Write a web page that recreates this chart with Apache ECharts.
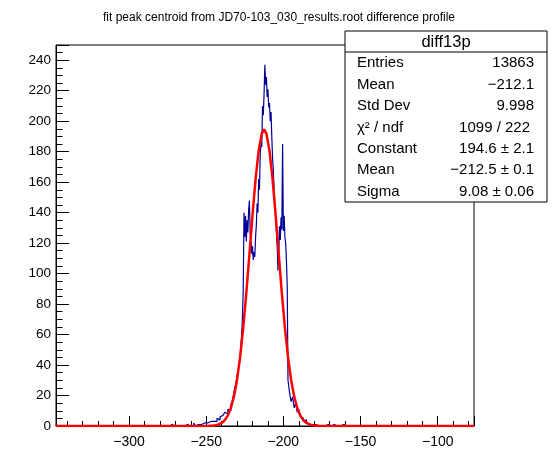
<!DOCTYPE html>
<html>
<head>
<meta charset="utf-8">
<title>diff13p</title>
<script src="https://cdn.jsdelivr.net/npm/echarts@6/dist/echarts.min.js"></script>
<style>
  html, body { margin: 0; padding: 0; background: #fff; }
  #main { width: 558px; height: 474px; }
</style>
</head>
<body>
<div id="main"></div>
<script>
// axis range of the histogram
var xMin = -347.3;
var xMax = -76.5;

// left flank, 1 unit bins from -254
var leftStart = -254;
var leftCounts = [
  1, 0, 2, 1, 2, 1, 3, 2, 3, 4,        // -254 .. -245
  3, 5, 4, 6, 7, 6, 9, 8, 11, 10,      // -244 .. -235
  14, 17, 22, 27, 33, 38, 46           // -234 .. -228
];

// peak, half unit bins from -227
var peakStart = -227;
var peakCounts = [
  60, 72, 89, 140, 124, 138, 121, 135, 127, 142,    // -227 .. -222.5
  148, 126, 121, 113, 118, 109, 114, 111, 124, 132, // -222 .. -217.5
  146, 140, 162, 155, 178, 186, 183, 210, 204, 218, // -217 .. -212.5
  237, 224, 229, 216, 221, 209, 212, 200, 206, 190, // -212 .. -207.5
  176, 168, 155, 146, 138, 128, 118, 102, 112, 131, // -207 .. -202.5
  122, 137, 129, 185, 128, 138, 124, 120, 108, 92   // -202 .. -197.5
];

// right flank, 1 unit bins from -197
var rightStart = -197;
var rightCounts = [
  30, 22, 16, 19, 12, 15, 9, 11, 6, 5, // -197 .. -188
  3, 4, 2, 1, 2, 1, 0, 1               // -187 .. -180
];

// scattered entries in the far tails
var tailBinLo = [-282, -273, -270, -268, -263, -260, -258, -256, -255, -179, -177, -175, -172, -168, -165, -162, -107];
var tailCounts = [1, 1, 1, 1, 1, 1, 2, 1, 2, 1, 1, 1, 1, 1, 1, 1, 1];

// gaussian fit curve as drawn
var fitX = [-347.3, -252, -248, -246, -244, -242, -240, -238, -236, -234, -232, -230, -228, -226, -224, -222, -220, -218, -216, -214,
  -212.5, -211, -209, -207, -205, -203, -201, -199, -197, -195, -193, -191, -189, -187, -185, -183, -181, -179, -177, -173, -76.5];
var fitY = [0, 0.02, 0.09, 0.22, 0.47, 1.0, 2.0, 3.8, 6.8, 11.8, 19.4, 30.4, 45.3, 64.5, 87.3, 112.6, 138.4, 162, 180.7, 191.9,
  194.6, 191.9, 180.7, 162, 138.4, 112.6, 87.3, 64.5, 45.3, 30.4, 19.4, 11.8, 6.8, 3.8, 2.0, 1.0, 0.47, 0.22, 0.09, 0.02, 0];

// stats box
var statsTitle = 'diff13p';
var statsNames = ['Entries', 'Mean', 'Std Dev', 'χ² / ndf', 'Constant', 'Mean', 'Sigma'];
var statsValues = ['13863', '\u2212212.1', '9.998', '1099 / 222', '194.6 ± 2.1', '\u2212212.5 ± 0.1', '9.08 ± 0.06'];

var chartTitle = 'fit peak centroid from JD70-103_030_results.root difference profile';

(function(){

  init();

  function init(){
    var myChart = echarts.init(document.getElementById('main'), null, {renderer: 'canvas'});
    myChart.setOption(buildOption());
  }

  // histogram as a stepped line, one point per bin low edge
  function histData(){
    var tails = {};
    var i, b;
    for (i = 0; i < tailBinLo.length; i++) {
      tails[tailBinLo[i]] = tailCounts[i];
    }
    var data = [[xMin, 0]];
    for (b = Math.ceil(xMin); b < leftStart; b++) {
      data.push([b, tails[b] || 0]);
    }
    for (i = 0; i < leftCounts.length; i++) {
      data.push([leftStart + i, leftCounts[i]]);
    }
    for (i = 0; i < peakCounts.length; i++) {
      data.push([peakStart + i * 0.5, peakCounts[i]]);
    }
    for (i = 0; i < rightCounts.length; i++) {
      data.push([rightStart + i, rightCounts[i]]);
    }
    for (b = rightStart + rightCounts.length; b < Math.floor(xMax); b++) {
      data.push([b, tails[b] || 0]);
    }
    data.push([xMax, 0]);
    return data;
  }

  function fitData(){
    var data = [];
    for (var i = 0; i < fitX.length; i++) {
      data.push([fitX[i], fitY[i]]);
    }
    return data;
  }

  function statsGraphics(){
    var font = 'Liberation Sans, Arial, sans-serif';
    var left = 345, top = 31, width = 202, height = 171;
    var headH = 21;
    var rowH = (height - headH) / statsNames.length;
    var els = [
      {type: 'rect', z: 100, shape: {x: left, y: top, width: width, height: height},
        style: {fill: '#fff', stroke: '#000', lineWidth: 1}},
      {type: 'line', z: 101, shape: {x1: left, y1: top + headH, x2: left + width, y2: top + headH},
        style: {stroke: '#000', lineWidth: 1}},
      {type: 'text', z: 102, x: left + width / 2, y: top + headH / 2 + 1,
        style: {text: statsTitle, font: '16.5px ' + font, fill: '#000', align: 'center', verticalAlign: 'middle'}}
    ];
    for (var i = 0; i < statsNames.length; i++) {
      var cy = top + headH + rowH * (i + 0.5) + 0.5;
      els.push({type: 'text', z: 102, x: 357, y: cy,
        style: {text: statsNames[i], font: '15px ' + font, fill: '#000', align: 'left', verticalAlign: 'middle'}});
      els.push({type: 'text', z: 102, x: (i === 3 ? 530 : 534), y: cy,
        style: {text: statsValues[i], font: '15px ' + font, fill: '#000', align: 'right', verticalAlign: 'middle'}});
    }
    return els;
  }

  function buildOption(){
    var font = 'Liberation Sans, Arial, sans-serif';
    return {
      animation: false,
      backgroundColor: '#fff',
      title: {
        text: chartTitle,
        left: 'center',
        top: 7,
        textStyle: {fontFamily: font, fontSize: 12, fontWeight: 'normal', color: '#000'}
      },
      grid: {
        left: 56, right: 84, top: 45, bottom: 48,
        show: true, borderColor: '#000', borderWidth: 1, backgroundColor: 'transparent'
      },
      xAxis: {
        type: 'value',
        min: xMin,
        max: xMax,
        splitNumber: 5,
        splitLine: {show: false},
        axisLine: {onZero: false, lineStyle: {color: '#000', width: 1}},
        axisTick: {inside: true, length: 10, lineStyle: {color: '#000'}},
        minorTick: {show: true, splitNumber: 5, length: 5, lineStyle: {color: '#000'}},
        axisLabel: {
          showMinLabel: false, showMaxLabel: false, margin: 9,
          fontFamily: font, fontSize: 14, color: '#000',
          formatter: function(v){ return String(v).replace('-', '\u2212'); }
        }
      },
      yAxis: {
        type: 'value',
        min: 0,
        max: 250,
        interval: 20,
        splitLine: {show: false},
        axisLine: {show: true, lineStyle: {color: '#000', width: 1}},
        axisTick: {show: true, inside: true, length: 13, lineStyle: {color: '#000'}},
        minorTick: {show: true, splitNumber: 4, length: 6.5, lineStyle: {color: '#000'}},
        axisLabel: {showMaxLabel: false, margin: 5, fontFamily: font, fontSize: 13.5, color: '#000'}
      },
      series: [
        {
          name: 'diff13p',
          type: 'line',
          step: 'end',
          symbol: 'none',
          data: histData(),
          lineStyle: {color: '#000099', width: 1.2}
        },
        {
          name: 'fit',
          type: 'line',
          symbol: 'none',
          data: fitData(),
          lineStyle: {color: '#ff0000', width: 2.5}
        }
      ],
      graphic: statsGraphics()
    };
  }

})();
</script>
</body>
</html>
